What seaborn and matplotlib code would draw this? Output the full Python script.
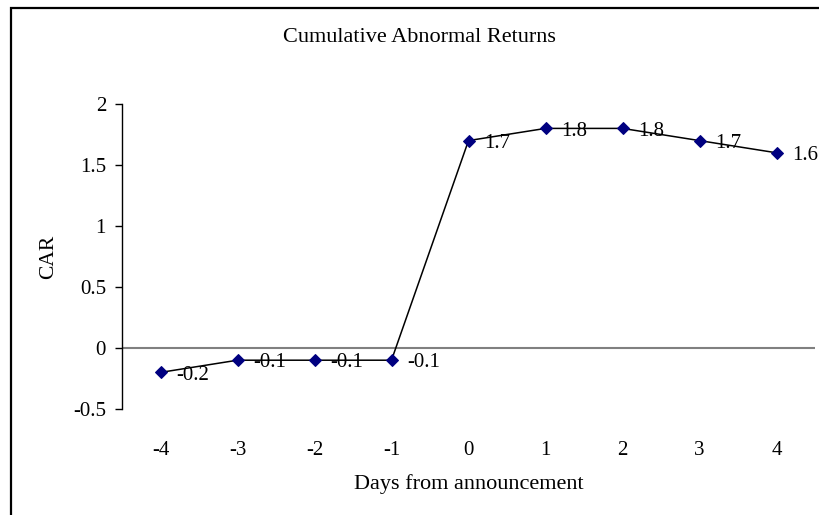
import numpy as np
import pandas as pd
import matplotlib
matplotlib.use("Agg")
import matplotlib.pyplot as plt
import seaborn as sns

# ==============================
# data
# ==============================
days = [-4, -3, -2, -1, 0, 1, 2, 3, 4]
car = [-0.2, -0.1, -0.1, -0.1, 1.7, 1.8, 1.8, 1.7, 1.6]
car_labels = ["-0.2", "-0.1", "-0.1", "-0.1", "1.7", "1.8", "1.8", "1.7", "1.6"]
y_ticks = [-0.5, 0, 0.5, 1, 1.5, 2]
y_tick_labels = ["-0.5", "0", "0.5", "1", "1.5", "2"]

df = pd.DataFrame({"Day": days, "CAR": car})

sns.set_theme(style="white")
plt.rcParams["font.family"] = ["Liberation Serif", "DejaVu Serif"]
plt.rcParams["text.color"] = "black"
plt.rcParams["axes.labelcolor"] = "black"
plt.rcParams["xtick.color"] = "black"
plt.rcParams["ytick.color"] = "black"

fig = plt.figure(figsize=(8.19, 5.15), dpi=100)
ax = fig.add_axes([122 / 819, 1 - 409 / 515, (815 - 122) / 819, 305 / 515])

# outer frame like the excel chart area
fig.patches.append(plt.Rectangle((11 / 819, -0.1), 1.2, 1 - 8 / 515 + 0.1,
                                 transform=fig.transFigure, fill=False,
                                 edgecolor="black", linewidth=1.6))

ax.axhline(0, color="#808080", lw=1.5, zorder=1)
sns.lineplot(data=df, x="Day", y="CAR", ax=ax, color="black", lw=1.1,
             marker="D", markersize=6.5, markerfacecolor="#000080",
             markeredgecolor="#000080", zorder=3)

for d, v, lab in zip(days, car, car_labels):
    ax.annotate(lab, (d, v), xytext=(11, -2), textcoords="offset points",
                ha="left", va="center", fontsize=15)

ax.set_xlim(-4.5, 4.5)
ax.set_ylim(-0.5, 2)
ax.set_yticks(y_ticks)
ax.set_yticklabels(y_tick_labels, fontsize=15)
ax.set_xticks(days)
ax.set_xticklabels([str(d) for d in days], fontsize=15)
ax.tick_params(axis="x", length=0, pad=23)
ax.tick_params(axis="y", length=5, width=1, direction="out", left=True, pad=6.5)

for s in ["top", "right", "bottom"]:
    ax.spines[s].set_visible(False)
ax.spines["left"].set_color("black")
ax.spines["left"].set_linewidth(1)

ax.set_xlabel("Days from announcement", fontsize=16, labelpad=10)
ax.set_ylabel("CAR", fontsize=15.5, labelpad=11)
fig.text(419 / 819, 1 - 38 / 515, "Cumulative Abnormal Returns", ha="center",
         va="center", fontsize=16)

fig.savefig("out.png", dpi=100)
